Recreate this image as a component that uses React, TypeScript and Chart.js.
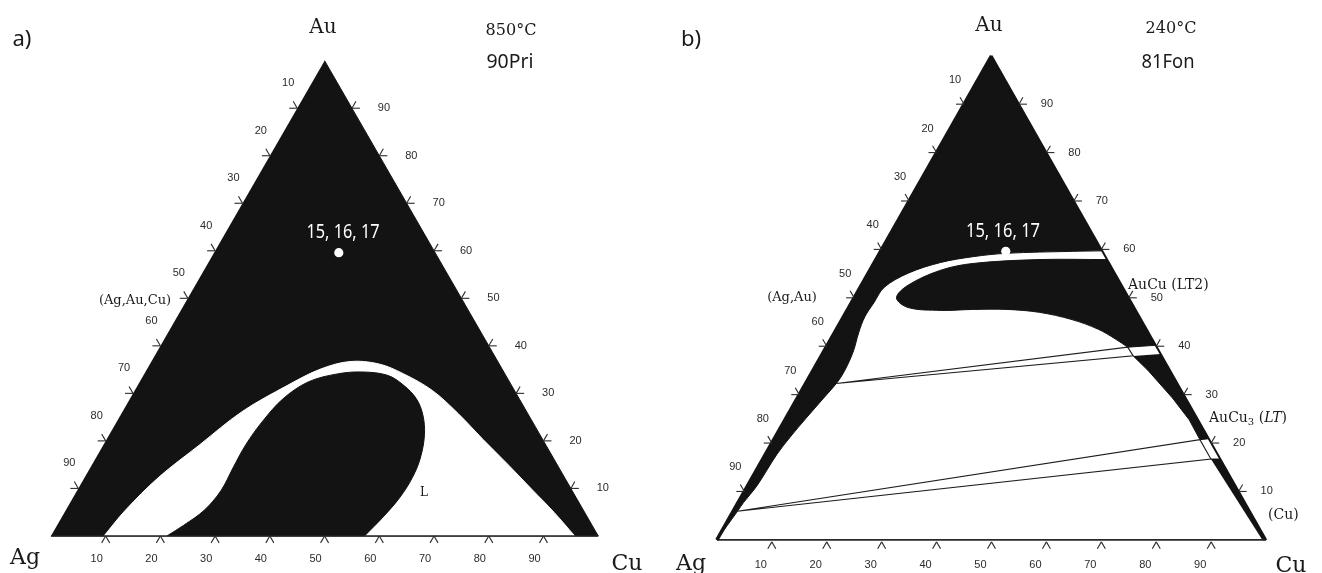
import React, { useEffect, useRef } from 'react';
import { Chart, registerables } from 'chart.js';

Chart.register(...registerables);

// Compositions are [Cu at.%, Au at.%]; Ag is the balance.
type Pt = [number, number];

const AG: Pt = [0, 0];
const CU: Pt = [100, 0];
const AU: Pt = [0, 100];
const AXIS_TICKS: number[] = [10, 20, 30, 40, 50, 60, 70, 80, 90];
const SAMPLE: Pt[] = [[22.8, 59.6]];
const SAMPLE_LABEL = '15, 16, 17';

// ---- panel a: 850 °C (90Pri) ----
const A_TWO_PHASE_TOP: Pt[] = [
  [9.7, 0], [10.9, 5.4], [13.5, 12.3], [17.6, 19.2], [21.8, 26.1], [27.4, 31.7],
  [31.7, 35.1], [36.3, 36.7], [41.8, 36.2], [47.4, 34.1], [54.4, 30.6], [61.6, 25.7],
  [68.8, 20.3], [75.9, 15.1], [83.1, 9.7], [89.4, 5.0], [95.7, 0],
];
const A_LIQUID: Pt[] = [
  [21.2, 0], [23.1, 2.2], [25.3, 5.4], [26.3, 9.5], [26.1, 14.4], [26.0, 19.2],
  [26.6, 24.1], [28.0, 28.9], [30.8, 32.4], [35.3, 34.1], [39.7, 34.5], [44.6, 33.8],
  [48.6, 31.7], [52.3, 28.9], [55.2, 25.5], [57.6, 21.3], [59.3, 16.4], [59.9, 12.3],
  [59.7, 8.1], [58.7, 4.0], [57.3, 0],
];

// ---- panel b: 240 °C (81Fon) ----
const B_AGAU_BOUNDARY: Pt[] = [
  [0, 0], [0.8, 5.9], [1.0, 7.7], [1.7, 11.0], [1.9, 14.4], [2.1, 17.7], [2.7, 21.1],
  [3.7, 25.2], [4.8, 29.3], [5.6, 32.3], [5.8, 34.8], [5.4, 38.8], [4.4, 42.9],
  [3.9, 46.1], [4.1, 49.0], [4.4, 52.2], [7.3, 55.1], [12.1, 57.3], [17.4, 58.5],
  [23.2, 59.2], [34.9, 59.6], [40.3, 59.7],
];
const B_AUCU_LT2_CURVE: Pt[] = [
  [42.1, 57.9], [29.7, 57.9], [18.1, 57.1], [12.9, 55.7], [8.5, 52.6], [7.7, 50.0],
  [10.8, 48.0], [17.1, 47.4], [22.9, 47.6], [29.0, 47.6], [35.2, 47.0], [41.9, 45.5],
  [47.7, 43.5], [51.8, 41.5], [54.9, 39.8],
];
const B_AUCU_LT2_EDGE: Pt[] = [[54.9, 39.8], [59.8, 40.2]];
const B_AUCU3_LT: Pt[] = [
  [61.6, 38.4], [79.1, 20.9], [77.6, 20.7], [73.6, 24.8], [68.3, 29.3], [61.0, 35.0], [56.8, 38.0],
];
const B_CU_SOLID: Pt[] = [[81.6, 16.7], [83.3, 16.7], [100, 0], [99.3, 0]];
const B_TIE_LT2: Pt[] = [[5.6, 32.3], [54.9, 39.8], [56.8, 38.0]];
const B_TIE_LT: Pt[] = [[0.8, 5.9], [77.6, 20.7], [81.6, 16.7]];

const BLACK = '#131313';
const SANS = '"Noto Sans", "DejaVu Sans", sans-serif';
const SERIF = '"DejaVu Serif", "Liberation Serif", serif';
const TICKFONT = '11px "Liberation Sans", "DejaVu Sans", sans-serif';

const toXY = (p: Pt) => ({ x: p[0] + p[1] / 2, y: p[1] });
const path = (...pieces: Pt[][]): Pt[] => pieces.flat();

function region(points: Pt[], color: string, order: number, tension = 0.35) {
  return {
    data: points.map(toXY), showLine: true, fill: 'shape', backgroundColor: color,
    borderColor: color, borderWidth: 1, pointRadius: 0, tension, order,
  };
}
function stroke(points: Pt[], color: string, width: number, order: number) {
  return {
    data: points.map(toXY), showLine: true, fill: false, borderColor: color,
    borderWidth: width, pointRadius: 0, tension: 0, order, borderJoinStyle: 'miter',
  };
}
function sampleDot() {
  return {
    data: SAMPLE.map(toXY), showLine: false, pointRadius: 4.6, pointBackgroundColor: '#ffffff',
    pointBorderColor: '#ffffff', pointBorderWidth: 0, order: 0,
  };
}

type Run = { t: string; font: string; dy?: number };
type TextItem = {
  text?: string; runs?: Run[]; x: number; y: number; font?: string; color?: string;
  align?: CanvasTextAlign; maxWidth?: number;
};

type PanelSpec = {
  xRange: [number, number];
  yRange: [number, number];
  datasets: any[];
  texts: TextItem[];
  leftOff: [number, number];
  rightOff: [number, number];
  bottomOff: [number, number];
  bottomGap: number;
};

const PANEL_A: PanelSpec = {
  xRange: [-8.468, 110.63],
  yRange: [-6.83, 111.8],
  datasets: [
    sampleDot(),
    stroke([AG, CU], '#222222', 1.5, 1),
    region(A_LIQUID, BLACK, 2),
    region(A_TWO_PHASE_TOP, '#ffffff', 3),
    region([AG, CU, AU], BLACK, 4, 0),
  ],
  texts: [
    { text: 'a)', x: 22, y: 46, font: `22px ${SANS}`, maxWidth: 20 },
    { text: 'Au', x: 323, y: 33, font: `20px ${SERIF}` },
    { text: '850°C', x: 511, y: 35, font: `16px ${SERIF}`, maxWidth: 51 },
    { text: '90Pri', x: 510, y: 68, font: `20px ${SANS}`, maxWidth: 47 },
    { text: 'Ag', x: 25, y: 564, font: `22px ${SERIF}` },
    { text: 'Cu', x: 627, y: 570, font: `22px ${SERIF}` },
    { text: '(Ag,Au,Cu)', x: 135, y: 304, font: `13px ${SERIF}`, maxWidth: 76 },
    { text: 'L', x: 424, y: 496, font: `12px ${SERIF}` },
    { text: SAMPLE_LABEL, x: 343, y: 238, font: `19px ${SANS}`, color: '#ffffff', maxWidth: 73 },
  ],
  leftOff: [-9, -25],
  rightOff: [32, 0],
  bottomOff: [-9, 23],
  bottomGap: 0,
};

const PANEL_B: PanelSpec = {
  xRange: [-9.336, 109.34],
  yRange: [-5.894, 110.57],
  datasets: [
    sampleDot(),
    stroke([AG, AU], BLACK, 3.5, 1),
    stroke([CU, AU], BLACK, 2, 1),
    stroke([AG, CU], '#2a2a2a', 1.6, 1),
    stroke([...B_TIE_LT2, B_TIE_LT2[0]], '#1e1e1e', 1.1, 2),
    stroke([...B_TIE_LT, B_TIE_LT[0]], '#1e1e1e', 1.1, 2),
    region(path([AU, AG], B_AGAU_BOUNDARY), BLACK, 3),
    region(path(B_AUCU_LT2_CURVE, B_AUCU_LT2_EDGE), BLACK, 3),
    region(B_AUCU3_LT, BLACK, 3, 0),
    region(B_CU_SOLID, BLACK, 3, 0),
  ],
  texts: [
    { text: 'b)', x: 30, y: 46, font: `22px ${SANS}`, maxWidth: 21 },
    { text: 'Au', x: 328, y: 31, font: `20px ${SERIF}` },
    { text: '240°C', x: 510, y: 33, font: `16px ${SERIF}`, maxWidth: 52 },
    { text: '81Fon', x: 507, y: 68, font: `20px ${SANS}`, maxWidth: 53 },
    { text: 'Ag', x: 30, y: 570, font: `22px ${SERIF}` },
    { text: 'Cu', x: 630, y: 572, font: `22px ${SERIF}` },
    { text: '(Ag,Au)', x: 131, y: 301, font: `13px ${SERIF}`, maxWidth: 54 },
    { text: 'AuCu (LT2)', x: 467, y: 289, font: `14px ${SERIF}`, align: 'left', maxWidth: 88 },
    {
      runs: [
        { t: 'AuCu', font: `14px ${SERIF}` },
        { t: '3', font: `10px ${SERIF}`, dy: 3 },
        { t: ' (', font: `14px ${SERIF}` },
        { t: 'LT', font: `italic 14px ${SERIF}` },
        { t: ')', font: `14px ${SERIF}` },
      ],
      x: 548, y: 422,
    },
    { text: '(Cu)', x: 607, y: 519, font: `14px ${SERIF}`, align: 'left' },
    { text: SAMPLE_LABEL, x: 342, y: 237, font: `19px ${SANS}`, color: '#ffffff', maxWidth: 74 },
  ],
  leftOff: [-9, -24],
  rightOff: [28, 0],
  bottomOff: [-11, 23],
  bottomGap: 2,
};

function overlayPlugin(spec: PanelSpec) {
  return {
    id: 'ternaryOverlay',
    afterDatasetsDraw(chart: any) {
      const { ctx } = chart;
      const xs = chart.scales.x;
      const ys = chart.scales.y;
      const P = (cu: number, au: number): [number, number] => [
        xs.getPixelForValue(cu + au / 2),
        ys.getPixelForValue(au),
      ];
      const L = 8;
      const seg = (x1: number, y1: number, x2: number, y2: number) => {
        ctx.beginPath();
        ctx.moveTo(x1, y1);
        ctx.lineTo(x2, y2);
        ctx.stroke();
      };
      ctx.save();
      ctx.strokeStyle = '#2b2b2b';
      ctx.lineWidth = 1.1;
      ctx.fillStyle = '#2b2b2b';
      ctx.font = TICKFONT;
      ctx.textAlign = 'center';
      ctx.textBaseline = 'middle';
      AXIS_TICKS.forEach((v) => {
        // left side: Ag = v
        let [px, py] = P(0, 100 - v);
        seg(px, py, px - L, py);
        seg(px, py, px - L * 0.5, py - L * 0.866);
        ctx.fillText(String(v), px + spec.leftOff[0], py + spec.leftOff[1]);
        // right side: Au = v
        [px, py] = P(100 - v, v);
        seg(px, py, px + L, py);
        seg(px, py, px + L * 0.5, py - L * 0.866);
        ctx.fillText(String(v), px + spec.rightOff[0], py + spec.rightOff[1]);
        // bottom: Cu = v
        [px, py] = P(v, 0);
        py += spec.bottomGap;
        seg(px, py, px - L * 0.5, py + L * 0.866);
        seg(px, py, px + L * 0.5, py + L * 0.866);
        ctx.fillText(String(v), px + spec.bottomOff[0], py + spec.bottomOff[1]);
      });
      ctx.textBaseline = 'alphabetic';
      spec.texts.forEach((t) => {
        ctx.fillStyle = t.color || '#1a1a1a';
        if (t.runs) {
          let x = t.x;
          ctx.textAlign = 'left';
          t.runs.forEach((r) => {
            ctx.font = r.font;
            ctx.fillText(r.t, x, t.y + (r.dy || 0));
            x += ctx.measureText(r.t).width;
          });
          return;
        }
        ctx.font = t.font || `14px ${SERIF}`;
        ctx.textAlign = t.align || 'center';
        if (t.maxWidth) ctx.fillText(t.text || '', t.x, t.y, t.maxWidth);
        else ctx.fillText(t.text || '', t.x, t.y);
      });
      ctx.restore();
    },
  };
}

function Panel({ spec }: { spec: PanelSpec }) {
  const ref = useRef<HTMLCanvasElement>(null);
  useEffect(() => {
    if (!ref.current) return;
    const chart = new Chart(ref.current, {
      type: 'scatter',
      data: { datasets: spec.datasets as any },
      options: {
        responsive: false,
        animation: false,
        events: [],
        layout: { padding: 0 },
        plugins: {
          legend: { display: false },
          tooltip: { enabled: false },
          title: { display: false },
        },
        scales: {
          x: { type: 'linear', display: false, min: spec.xRange[0], max: spec.xRange[1], bounds: 'data' },
          y: { type: 'linear', display: false, min: spec.yRange[0], max: spec.yRange[1], bounds: 'data' },
        },
      } as any,
      plugins: [overlayPlugin(spec)],
    });
    return () => chart.destroy();
  }, [spec]);
  return (
    <div style={{ width: 661, height: 573, position: 'relative' }}>
      <canvas ref={ref} width={661} height={573} style={{ display: 'block', width: 661, height: 573 }} />
    </div>
  );
}

export default function App() {
  return (
    <div
      style={{
        position: 'fixed', left: 0, top: 0, width: 1322, height: 573,
        display: 'flex', background: '#ffffff',
      }}
    >
      <Panel spec={PANEL_A} />
      <Panel spec={PANEL_B} />
    </div>
  );
}
